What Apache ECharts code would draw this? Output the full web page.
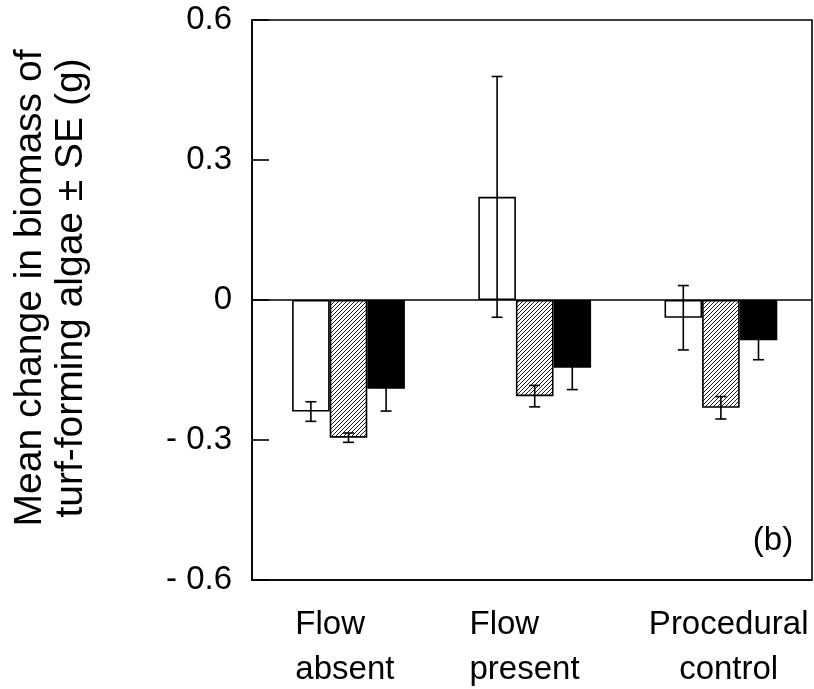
<!DOCTYPE html>
<html>
<head>
<meta charset="utf-8">
<script src="https://cdn.jsdelivr.net/npm/echarts@6/dist/echarts.min.js"></script>
<style>
  html, body { margin: 0; padding: 0; background: #fff; }
  #chart { width: 814px; height: 689px; }
</style>
</head>
<body>
<div id="chart"></div>
<script>
// ---- data ----
const categories = ['Flow\nabsent', 'Flow\npresent', 'Procedural\ncontrol'];
const openMean   = [-0.239, 0.221, -0.038];
const openSE     = [0.021, 0.258, 0.069];
const hatchMean  = [-0.295, -0.206, -0.231];
const hatchSE    = [0.010, 0.023, 0.024];
const solidMean  = [-0.190, -0.145, -0.086];
const solidSE    = [0.048, 0.047, 0.042];
const yTickValues = [-0.6, -0.3, 0, 0.3, 0.6];
const yTitle = 'Mean change in biomass of\nturf-forming algae \u00b1 SE (g)';
const panelLabel = '(b)';

// ---- styling constants ----
const FONT = 'Liberation Sans, Arial, Helvetica, sans-serif';
const LABEL_SIZE = 33;
const BAR_W = 37.6;
const CAP = 11;
const LW = 1.6;
// horizontal nudges of the category label blocks (px, + = right)
const labelShift = [0, -7, 10];

// hatch pattern
const pc = document.createElement('canvas');
pc.width = 4; pc.height = 4;
const pctx = pc.getContext('2d');
pctx.fillStyle = '#fff'; pctx.fillRect(0, 0, 4, 4);
pctx.strokeStyle = '#000'; pctx.lineWidth = 0.9;
pctx.beginPath();
pctx.moveTo(0, 4); pctx.lineTo(4, 0);
pctx.moveTo(-1, 1); pctx.lineTo(1, -1);
pctx.moveTo(3, 5); pctx.lineTo(5, 3);
pctx.stroke();

// left-aligned lines inside each category label block
const mc = document.createElement('canvas').getContext('2d');
mc.font = LABEL_SIZE + 'px ' + FONT;
const rich = {};
categories.forEach((c, i) => {
  const w = Math.ceil(Math.max(...c.split('\n').map(l => mc.measureText(l).width)));
  rich['c' + i] = { width: w, align: 'left', fontSize: LABEL_SIZE, fontFamily: FONT, color: '#000', lineHeight: 45 };
  rich['p' + i] = { width: Math.max(1, 2 * Math.abs(labelShift[i])), fontSize: LABEL_SIZE, fontFamily: FONT, color: '#fff', lineHeight: 45 };
});
function labelFormatter(v, i) {
  const s = labelShift[i];
  return v.split('\n').map(l => {
    const t = '{c' + i + '|' + l + '}';
    const p = '{p' + i + '|\u00a0}';
    if (s > 0) return p + t;
    if (s < 0) return t + p;
    return t;
  }).join('\n');
}

function errData(mean, se) {
  return mean.map((m, i) => [i, m, m - se[i], m + se[i]]);
}
function errSeries(mean, se, slot) {
  return {
    type: 'custom', xAxisIndex: 1, yAxisIndex: 1, z: 6, silent: true,
    data: errData(mean, se),
    encode: { x: 0, y: [1, 2, 3] },
    renderItem: function (params, api) {
      const c = api.coord([api.value(0), api.value(1)]);
      const lo = api.coord([api.value(0), api.value(2)]);
      const hi = api.coord([api.value(0), api.value(3)]);
      const x = c[0] + slot * BAR_W;
      const st = { stroke: '#000', lineWidth: LW, fill: null };
      return {
        type: 'group',
        children: [
          { type: 'line', shape: { x1: x, y1: hi[1], x2: x, y2: lo[1] }, style: st },
          { type: 'line', shape: { x1: x - CAP / 2, y1: hi[1], x2: x + CAP / 2, y2: hi[1] }, style: st },
          { type: 'line', shape: { x1: x - CAP / 2, y1: lo[1], x2: x + CAP / 2, y2: lo[1] }, style: st }
        ]
      };
    }
  };
}
function barSeries(name, mean, color) {
  return {
    name: name, type: 'bar', xAxisIndex: 1, yAxisIndex: 1, z: 3,
    barWidth: BAR_W, barGap: '0%', silent: true,
    data: mean,
    itemStyle: { color: color, borderColor: '#000', borderWidth: LW }
  };
}

const chart = echarts.init(document.getElementById('chart'), null, { renderer: 'canvas' });
chart.setOption({
  animation: false,
  backgroundColor: '#fff',
  grid: [
    { left: 252, top: 20, width: 560, height: 560, show: true, borderColor: '#000', borderWidth: LW, backgroundColor: 'transparent' },
    { left: 255.4, top: 20, width: 560, height: 560, show: false }
  ],
  xAxis: [
    {
      type: 'category', gridIndex: 0, data: categories,
      axisLine: { onZero: false, lineStyle: { color: '#000', width: LW } },
      axisTick: { show: false },
      axisLabel: { interval: 0, margin: 22, formatter: labelFormatter, rich: rich }
    },
    { type: 'category', gridIndex: 1, data: categories, show: false }
  ],
  yAxis: [
    {
      type: 'value', gridIndex: 0, min: -0.6, max: 0.6, interval: 0.3,
      splitLine: { show: false },
      axisLine: { show: true, lineStyle: { color: '#000', width: LW } },
      axisTick: { show: true, inside: true, length: 17, lineStyle: { color: '#000', width: LW } },
      axisLabel: {
        margin: 20, fontSize: LABEL_SIZE, fontFamily: FONT, color: '#000',
        formatter: function (v) {
          const t = yTickValues.find(k => Math.abs(k - v) < 1e-9);
          if (t === undefined) return '';
          if (Math.abs(t) < 1e-9) return '0';
          return t < 0 ? '- ' + Math.abs(t).toFixed(1) : t.toFixed(1);
        }
      },
      name: yTitle, nameLocation: 'middle', nameRotate: 90, nameGap: 160,
      nameTextStyle: { fontSize: 39, lineHeight: 41, fontFamily: FONT, color: '#000', padding: [0, 0, 0, 24] }
    },
    { type: 'value', gridIndex: 1, min: -0.6, max: 0.6, interval: 0.3, show: false, splitLine: { show: false } }
  ],
  series: [
    barSeries('Open', openMean, '#fff'),
    barSeries('Hatched', hatchMean, { image: pc, repeat: 'repeat' }),
    barSeries('Solid', solidMean, '#000'),
    errSeries(openMean, openSE, -1),
    errSeries(hatchMean, hatchSE, 0),
    errSeries(solidMean, solidSE, 1),
    {
      type: 'line', xAxisIndex: 0, yAxisIndex: 0, data: [], z: 5, silent: true,
      markLine: {
        silent: true, symbol: 'none', label: { show: false },
        lineStyle: { color: '#000', width: LW, type: 'solid' },
        data: [{ yAxis: 0 }]
      }
    }
  ],
  graphic: [
    {
      type: 'text', x: 773, y: 541, z: 10,
      style: { text: panelLabel, fontSize: LABEL_SIZE, fontFamily: FONT, fill: '#000', align: 'center', verticalAlign: 'middle' }
    }
  ]
});
</script>
</body>
</html>
